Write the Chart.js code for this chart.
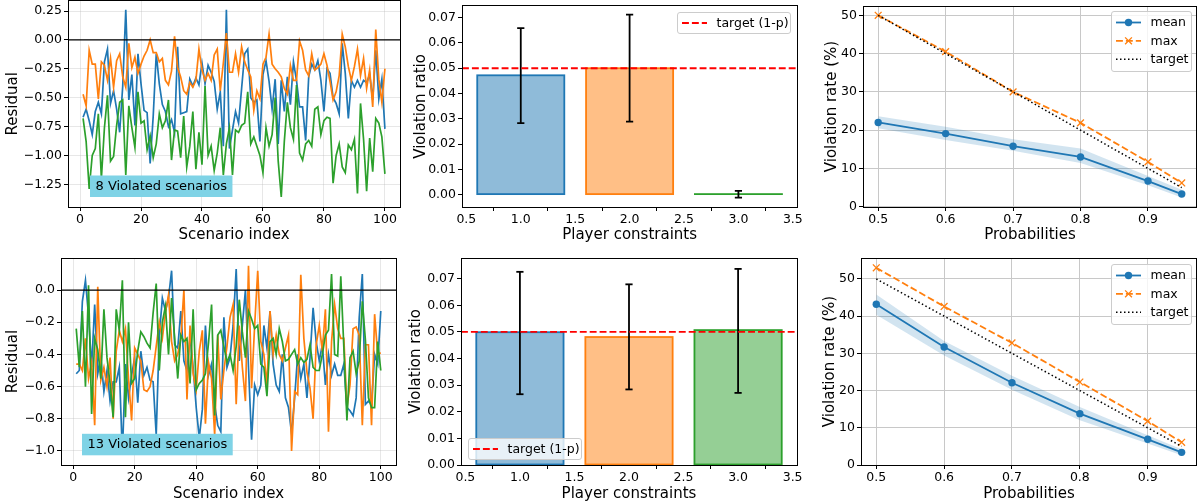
<!DOCTYPE html>
<html><head><meta charset="utf-8">
<script src="https://cdn.jsdelivr.net/npm/chart.js@4.4.0/dist/chart.umd.min.js"></script>
<style>
html,body{margin:0;padding:0;background:#fff;}
#wrap{position:relative;width:1203px;height:504px;overflow:hidden;background:#fff;}
canvas{position:absolute;}
</style></head><body><div id="wrap"></div>
<script>
// ---------------- DATA ----------------
const scenarios = Array.from({length:100},(_,i)=>i+1);
const topBlue = [-0.67,-0.60,-0.70,-0.82,-0.62,-0.54,-0.64,-0.19,-0.08,-0.55,
-0.44,-0.60,-0.80,-0.40,0.26,-0.52,-0.30,-0.74,-0.12,-0.38,
-0.61,-0.63,-1.07,-0.66,-0.12,-0.38,-0.56,-0.62,-0.75,-0.69,
-0.80,-0.06,-0.64,-0.63,-0.62,-0.34,-0.40,-0.33,-0.39,-0.20,
-0.38,-0.22,-0.28,-0.36,-0.60,-0.45,-0.92,0.26,-0.94,-0.78,
-0.62,-0.72,-0.42,-0.12,-0.08,-0.50,-0.54,-0.52,-0.88,-0.30,
-0.18,-0.36,-0.60,-0.34,-0.90,-0.35,-0.62,-0.32,-0.56,-0.19,
-0.35,-0.58,-0.58,-0.87,-0.32,-0.21,-0.26,-0.18,-0.35,-0.62,
-0.25,-0.29,-0.50,-0.55,-0.64,-0.03,-0.29,-0.68,-0.35,-0.41,
-0.35,-0.41,-0.35,-0.37,-0.30,-0.52,-0.09,-0.51,-0.34,-0.77];
const topOrange = [-0.47,-0.57,-0.09,-0.21,-0.21,-0.51,-0.19,-0.22,-0.35,-0.16,
-0.41,-0.18,-0.12,-0.32,-0.41,-0.03,-0.24,-0.15,-0.29,-0.21,
-0.14,-0.09,0.00,-0.11,-0.11,-0.19,-0.16,-0.35,-0.39,-0.27,
0.03,-0.24,-0.32,-0.44,-0.47,-0.37,-0.41,-0.35,-0.08,-0.26,
-0.35,-0.29,-0.35,-0.13,-0.08,-0.44,-0.20,0.06,-0.28,-0.28,
-0.12,-0.28,-0.06,-0.19,-0.26,-0.32,-0.61,-0.44,-0.51,-0.21,
-0.15,0.05,-0.21,-0.25,-0.28,-0.32,-0.42,-0.47,-0.22,-0.35,
-0.35,-0.01,-0.09,-0.26,-0.31,-0.12,-0.26,-0.24,-0.21,-0.12,
-0.22,-0.36,-0.52,-0.45,-0.31,0.05,-0.06,-0.23,-0.35,-0.23,
-0.08,-0.31,-0.16,-0.42,-0.26,-0.58,0.09,-0.34,-0.54,-0.25];
const topGreen = [-0.68,-0.88,-1.29,-1.00,-0.94,-0.64,-1.20,-0.76,-0.48,-1.05,
-1.01,-0.74,-0.54,-0.52,-1.17,-0.57,-0.76,-0.93,-0.45,-0.72,
-0.70,-0.95,-0.83,-1.02,-0.90,-0.64,-0.76,-0.70,-0.52,-1.04,
-0.78,-0.79,-1.02,-0.66,-1.10,-0.92,-0.62,-1.12,-0.80,-1.08,
-0.40,-1.00,-0.92,-1.13,-0.98,-0.76,-1.17,-0.90,-0.76,-1.17,
-0.78,-0.80,-0.74,-0.72,-0.45,-0.90,-0.84,-0.92,-1.00,-1.15,
-0.76,-0.92,-0.82,-0.50,-1.05,-1.36,-0.88,-0.54,-0.76,-0.86,
-0.39,-0.98,-1.04,-0.90,-0.87,-0.92,-0.60,-0.58,-0.82,-0.70,
-0.67,-0.68,-1.24,-1.00,-0.90,-1.10,-1.15,-0.91,-0.95,-0.86,
-1.33,-0.55,-0.86,-1.31,-0.85,-1.14,-0.68,-0.72,-0.84,-1.16];
const botBlue = [-0.52,-0.50,-0.07,0.06,-0.16,-0.48,-0.09,-0.52,-0.42,-0.63,
-0.50,-0.69,-0.57,-0.57,-0.48,-1.02,-0.46,-0.67,-0.53,-0.42,
-0.70,-0.38,-0.53,-0.48,-0.56,-0.57,-0.90,-0.28,-0.05,-0.13,
-0.05,0.12,-0.34,-0.36,-0.13,-0.44,-0.50,-0.29,-0.48,-0.73,
-0.92,-0.74,-0.22,-0.53,-0.46,-0.71,-0.84,-0.88,-0.17,-0.48,
-0.42,-0.22,0.13,-0.44,-0.22,0.00,-0.48,-0.93,-0.59,-0.65,
-0.59,-0.22,-0.36,-0.13,-0.46,-0.59,-0.63,-0.40,-0.67,-0.73,
-0.89,-0.67,-0.40,-0.55,-0.46,-0.67,-0.42,-0.11,-0.32,-0.44,
-0.34,-0.59,-0.40,-0.53,-0.46,-0.53,-0.53,-0.46,-0.73,-0.75,
-0.78,-0.67,-0.17,0.10,-0.71,-0.69,-0.71,-0.40,-0.46,-0.13];
const botOrange = [-0.46,-0.46,-0.50,-0.30,-0.55,-0.45,-0.84,0.02,-0.56,-0.48,
-0.60,-0.42,-0.80,-0.38,-0.25,-0.32,-0.24,-0.55,-0.81,-0.36,
-0.40,-0.44,-0.62,-0.63,-0.60,-0.50,-0.35,-0.20,-0.30,-0.14,
-0.03,-0.32,-0.44,-0.40,-0.30,0.00,-0.68,-0.22,-0.52,-0.62,
-0.38,-0.25,-0.83,-0.45,-0.55,-0.90,-0.28,-0.68,-0.50,-0.35,
-0.17,-0.09,-0.71,-0.22,-0.48,-0.69,0.15,-0.61,-0.22,0.12,
-0.32,-0.40,-0.59,-0.13,-0.40,-0.28,-0.40,-0.44,-0.36,-0.28,
-1.00,-0.63,-0.65,0.095,-0.30,-0.51,-0.61,-0.80,-0.34,-0.22,
-0.38,-0.12,-0.88,-0.32,-0.09,-0.24,-0.30,-0.30,-0.73,-0.59,
-0.24,-0.23,-0.28,-0.84,-0.34,-0.34,-0.84,-0.15,-0.40,-0.39];
const botGreen = [-0.24,-0.48,-0.13,-0.60,0.03,-0.77,-0.30,-0.37,-0.55,-0.12,
-0.42,-0.58,-0.79,-0.12,-0.25,0.06,-0.79,-0.20,-0.58,-0.55,
-0.38,-0.26,-0.29,-0.33,-0.36,-0.14,0.04,-0.50,-0.20,-0.10,
-0.40,-0.05,-0.30,-0.55,-0.28,-0.32,-0.30,-0.58,-0.12,-0.62,
-0.58,-0.56,-0.52,-0.33,-0.09,-0.78,-0.28,-0.25,-0.35,-0.45,
-0.40,-0.50,-0.35,-0.06,-0.26,-0.42,-0.13,-0.18,-0.24,-0.22,
-0.46,-0.48,-0.66,-0.32,-0.30,-0.40,-0.24,-0.32,-0.44,-0.43,
-0.40,-0.37,-0.46,-0.42,-0.45,-0.43,-0.34,-0.48,-0.50,-0.50,
-0.40,-0.28,-0.25,0.10,-0.40,-0.41,0.085,-0.36,-0.81,-0.42,
-0.38,-0.52,-0.44,-0.07,-0.31,-0.67,-0.73,-0.73,-0.32,-0.50];
const violatedTop = 8;
const violatedBottom = 13;

const players = [1, 2, 3];
const topRatio = [0.0472, 0.0500, 0.0002];
const topErrLo = [0.0283, 0.0289, -0.0012];
const topErrHi = [0.0659, 0.0712, 0.0015];
const botRatio = [0.0499, 0.0481, 0.0507];
const botErrLo = [0.0266, 0.0284, 0.0271];
const botErrHi = [0.0726, 0.0679, 0.0737];
const targetRatio = 0.05;

const probs = [0.5, 0.6, 0.7, 0.8, 0.9, 0.95];
const targetRate = [50, 40, 30, 20, 10, 5];
const topMean = [22.0, 19.1, 15.8, 13.0, 6.7, 3.3];
const topMax = [50.0, 40.5, 30.0, 21.9, 11.7, 6.2];
const topBandHi = [23.6, 20.9, 17.6, 15.2, 8.0, 4.4];
const topBandLo = [20.5, 17.4, 14.6, 11.4, 5.6, 2.4];
const botMean = [43.2, 31.7, 22.1, 13.8, 6.9, 3.4];
const botMax = [53.0, 42.6, 32.8, 22.3, 11.8, 6.1];
const botBandHi = [45.8, 33.3, 24.0, 15.6, 8.0, 4.2];
const botBandLo = [40.4, 29.4, 20.2, 12.0, 5.8, 2.6];

const residualXTicks = [0, 20, 40, 60, 80, 100];
const topResidualYTicks = [-1.25, -1.0, -0.75, -0.5, -0.25, 0.0, 0.25];
const botResidualYTicks = [-1.0, -0.8, -0.6, -0.4, -0.2, 0.0];
const barXTicks = [0.5, 1.0, 1.5, 2.0, 2.5, 3.0, 3.5];
const barYTicks = [0, 0.01, 0.02, 0.03, 0.04, 0.05, 0.06, 0.07];
const probXTicks = [0.5, 0.6, 0.7, 0.8, 0.9];
const rateYTicks = [0, 10, 20, 30, 40, 50];

// ---------------- STYLE / HELPERS ----------------
const C = {blue:'#1f77b4', orange:'#ff7f0e', green:'#2ca02c'};
const FILL = ['rgba(31,119,180,0.5)','rgba(255,127,14,0.5)','rgba(44,160,44,0.5)'];
Chart.defaults.font.family = "'DejaVu Sans', sans-serif";
Chart.defaults.font.size = 12.5;
Chart.defaults.color = '#000';
Chart.defaults.animation = false;

const fmt = dec => v => {
  let s = Math.abs(v) < 1e-12 ? (0).toFixed(dec) : Number(v).toFixed(dec);
  return s.replace('-', '\u2212');
};
const wrap = document.getElementById('wrap');
const decorMap = new Map();

const decor = {
  id: 'decor',
  afterDatasetDraw(chart, args) {
    const o = decorMap.get(chart.canvas); if (!o) return;
    if (args.meta.type !== 'bar') return;
    const ctx = chart.ctx, a = chart.chartArea;
    const ds = chart.data.datasets[args.index];
    ctx.save();
    ctx.beginPath(); ctx.rect(a.left, a.top, a.right - a.left, a.bottom - a.top); ctx.clip();
    args.meta.data.forEach((el, i) => {
      const p = el.getProps(['x','y','base','width'], true);
      ctx.strokeStyle = ds.edgeColors[i];
      ctx.lineWidth = 1.8;
      ctx.strokeRect(p.x - p.width/2, Math.min(p.y, p.base), p.width, Math.abs(p.base - p.y));
    });
    ctx.restore();
  },
  afterDatasetsDraw(chart) {
    const o = decorMap.get(chart.canvas); if (!o) return;
    const ctx = chart.ctx, a = chart.chartArea;
    ctx.save();
    ctx.beginPath(); ctx.rect(a.left, a.top, a.right - a.left, a.bottom - a.top); ctx.clip();
    (o.hlines || []).forEach(h => {
      const y = chart.scales.y.getPixelForValue(h.value);
      ctx.beginPath();
      ctx.setLineDash(h.dash || []);
      ctx.strokeStyle = h.color; ctx.lineWidth = h.width;
      ctx.moveTo(a.left, y); ctx.lineTo(a.right, y); ctx.stroke();
    });
    ctx.setLineDash([]);
    if (o.textbox) {
      const tb = o.textbox;
      ctx.font = "13px 'DejaVu Sans'";
      const tw = ctx.measureText(tb.text).width;
      const bh = 21.5, bx = a.left + tb.dx, by = a.bottom - tb.dy - bh;
      ctx.fillStyle = tb.color;
      ctx.fillRect(bx, by, tw + 11, bh);
      ctx.fillStyle = '#000'; ctx.textBaseline = 'middle'; ctx.textAlign = 'left';
      ctx.fillText(tb.text, bx + 5.5, by + bh/2 + 0.5);
    }
    ctx.restore();
    ctx.save();
    if (o.legend) {
      const lg = o.legend;
      let bx, by;
      if (lg.anchor === 'tr') { bx = a.right - lg.dx - lg.w; by = a.top + lg.dy; }
      else { bx = a.left + lg.dx; by = a.bottom - lg.dy - lg.h; }
      bx = Math.round(bx) + 0.5; by = Math.round(by) + 0.5;
      ctx.beginPath(); ctx.roundRect(bx, by, lg.w, lg.h, 2.5);
      ctx.fillStyle = 'rgba(255,255,255,0.8)'; ctx.fill();
      ctx.strokeStyle = '#cccccc'; ctx.lineWidth = 1; ctx.stroke();
      lg.items.forEach((it, k) => {
        const yy = by + lg.rows[k];
        ctx.beginPath(); ctx.setLineDash(it.dash || []);
        ctx.strokeStyle = it.color; ctx.lineWidth = it.width;
        ctx.moveTo(bx + 4.5, yy); ctx.lineTo(bx + 29.5, yy); ctx.stroke();
        ctx.setLineDash([]);
        const mx = bx + 17;
        if (it.marker === 'circle') {
          ctx.beginPath(); ctx.arc(mx, yy, 3.7, 0, Math.PI*2); ctx.fillStyle = it.color; ctx.fill();
        } else if (it.marker === 'x') {
          const r = 3.4; ctx.beginPath(); ctx.lineWidth = 1.3;
          ctx.moveTo(mx - r, yy - r); ctx.lineTo(mx + r, yy + r);
          ctx.moveTo(mx - r, yy + r); ctx.lineTo(mx + r, yy - r); ctx.stroke();
        }
        ctx.fillStyle = '#000'; ctx.font = "12.5px 'DejaVu Sans'";
        ctx.textBaseline = 'middle'; ctx.textAlign = 'left';
        ctx.fillText(it.label, bx + 39, yy + 0.5);
      });
    }
    // frame (spines)
    ctx.strokeStyle = '#000'; ctx.lineWidth = 1; ctx.setLineDash([]);
    const L = Math.floor(a.left) + 0.5, T = Math.floor(a.top) + 0.5;
    const R = Math.floor(a.right) + 0.5, B = Math.floor(a.bottom) + 0.5;
    ctx.strokeRect(L, T, R - L, B - T);
    ctx.restore();
  }
};
Chart.register(decor);

function makePanel(p, type, datasets, deco) {
  const cv = document.createElement('canvas');
  cv.width = p.cw; cv.height = p.ch;
  cv.style.left = p.cx + 'px'; cv.style.top = p.cy + 'px';
  cv.style.width = p.cw + 'px'; cv.style.height = p.ch + 'px';
  wrap.appendChild(cv);
  decorMap.set(cv, deco);
  const [L, T, R, B] = p.area;
  const pl = p.yTitleX - 9 - p.cx;
  const yW = L - p.cx - pl;
  const pt = T - p.cy;
  const pr = p.cx + p.cw - R;
  const xBottom = p.xTitleY + 9;
  const pb = p.cy + p.ch - xBottom;
  const xH = xBottom - B;
  const gridBase = {display: true, drawOnChartArea: p.gridOn, color: p.gridColor, lineWidth: 1,
                    drawTicks: true, tickLength: 4, tickColor: '#000', tickWidth: 1};
  new Chart(cv, {
    type,
    data: {datasets},
    options: {
      responsive: false, animation: false, events: [],
      devicePixelRatio: 1,
      layout: {padding: {left: pl, top: pt, right: pr, bottom: pb}},
      plugins: {legend: {display: false}, tooltip: {enabled: false}},
      scales: {
        x: {type: 'linear', min: p.xmin, max: p.xmax, offset: false,
            afterBuildTicks: s => { s.ticks = p.xticks.map(v => ({value: v})); },
            afterFit: s => { s.height = xH; s.paddingLeft = 0; s.paddingRight = 0; },
            ticks: {callback: p.xfmt, padding: 1.5, maxRotation: 0, autoSkip: false},
            grid: Object.assign({}, gridBase),
            border: {display: false},
            title: {display: true, text: p.xlabel, font: {size: 15}, padding: 0, color: '#000'}},
        y: {type: 'linear', min: p.ymin, max: p.ymax,
            afterBuildTicks: s => { s.ticks = p.yticks.map(v => ({value: v})); },
            afterFit: s => { s.width = yW; s.paddingTop = 0; s.paddingBottom = 0; },
            ticks: {callback: p.yfmt, padding: 2, autoSkip: false},
            grid: Object.assign({}, gridBase),
            border: {display: false},
            title: {display: true, text: p.ylabel, font: {size: 15}, padding: 0, color: '#000'}}
      }
    }
  });
}

// ---------------- RESIDUAL PANELS ----------------
function residualSets(b, o, g) {
  const mk = (arr, col, ord) => ({type: 'line', data: scenarios.map((x, i) => ({x, y: arr[i]})),
    borderColor: col, borderWidth: 1.7, pointRadius: 0, tension: 0, fill: false, order: ord});
  return [mk(b, C.blue, 3), mk(o, C.orange, 2), mk(g, C.green, 1)];
}
const resGrid = 'rgba(176,176,176,0.3)';
makePanel({cx: 0, cy: 0, cw: 403, ch: 252, area: [68, 0.5, 400, 207], yTitleX: 13.3, xTitleY: 235.5,
  xmin: -3.95, xmax: 104.95, ymin: -1.4465, ymax: 0.341, xticks: residualXTicks, yticks: topResidualYTicks,
  xfmt: fmt(0), yfmt: fmt(2), xlabel: 'Scenario index', ylabel: 'Residual', gridOn: true, gridColor: resGrid},
  'line', residualSets(topBlue, topOrange, topGreen),
  {hlines: [{value: 0, color: '#000', width: 1.3}],
   textbox: {text: violatedTop + ' Violated scenarios', dx: 22, dy: 10, color: 'rgb(127,211,230)'}});
makePanel({cx: 0, cy: 252, cw: 403, ch: 252, area: [61, 258, 396, 465], yTitleX: 13.3, xTitleY: 494,
  xmin: -3.95, xmax: 104.95, ymin: -1.087, ymax: 0.199, xticks: residualXTicks, yticks: botResidualYTicks,
  xfmt: fmt(0), yfmt: fmt(1), xlabel: 'Scenario index', ylabel: 'Residual', gridOn: true, gridColor: resGrid},
  'line', residualSets(botBlue, botOrange, botGreen),
  {hlines: [{value: 0, color: '#000', width: 1.3}],
   textbox: {text: violatedBottom + ' Violated scenarios', dx: 21, dy: 9.7, color: 'rgb(127,211,230)'}});

// ---------------- BAR PANELS ----------------
// Chart.js measures the bar slot from the smallest gap among bars AND ticks (ticks are 0.5 apart),
// so barPercentage 1.6 of that 0.5-unit slot gives matplotlib's 0.8-unit bar width.
function barSets(ratio, lo, hi) {
  const sets = [{type: 'bar', data: players.map((x, i) => ({x, y: ratio[i]})),
    backgroundColor: FILL, edgeColors: [C.blue, C.orange, C.green], borderWidth: 0,
    barPercentage: 1.6, categoryPercentage: 1.0, order: 5}];
  players.forEach((x, i) => sets.push({type: 'line', data: [{x, y: lo[i]}, {x, y: hi[i]}],
    borderColor: '#000', borderWidth: 1.8, pointStyle: 'line', pointRadius: 3.6,
    pointBorderColor: '#000', pointBorderWidth: 1.8, pointBackgroundColor: '#000',
    fill: false, tension: 0, order: 1}));
  return sets;
}
const targetLegend = [{label: 'target (1-p)', color: 'red', dash: [6.9, 3], width: 1.8}];
makePanel({cx: 403, cy: 0, cw: 400, ch: 252, area: [462, 0.5, 798, 207], yTitleX: 420.7, xTitleY: 235.5,
  xmin: 0.46, xmax: 3.54, ymin: -0.0049, ymax: 0.0747, xticks: barXTicks, yticks: barYTicks,
  xfmt: fmt(1), yfmt: fmt(2), xlabel: 'Player constraints', ylabel: 'Violation ratio', gridOn: false, gridColor: 'rgba(0,0,0,0)'},
  'bar', barSets(topRatio, topErrLo, topErrHi),
  {hlines: [{value: targetRatio, color: 'red', width: 1.8, dash: [6.9, 3]}],
   legend: {anchor: 'tr', dx: 7, dy: 6, w: 113, h: 21, rows: [10.5], items: targetLegend}});
makePanel({cx: 403, cy: 252, cw: 400, ch: 252, area: [461, 258, 797, 465], yTitleX: 415.7, xTitleY: 494,
  xmin: 0.46, xmax: 3.54, ymin: 0, ymax: 0.0778, xticks: barXTicks, yticks: barYTicks,
  xfmt: fmt(1), yfmt: fmt(2), xlabel: 'Player constraints', ylabel: 'Violation ratio', gridOn: false, gridColor: 'rgba(0,0,0,0)'},
  'bar', barSets(botRatio, botErrLo, botErrHi),
  {hlines: [{value: targetRatio, color: 'red', width: 1.8, dash: [6.9, 3]}],
   legend: {anchor: 'bl', dx: 6.5, dy: 6.5, w: 113, h: 21, rows: [10.5], items: targetLegend}});

// ---------------- RATE PANELS ----------------
function rateSets(mean, mx, hi, lo) {
  const pts = arr => probs.map((x, i) => ({x, y: arr[i]}));
  return [
    {data: pts(hi), fill: '+1', backgroundColor: 'rgba(31,119,180,0.2)', borderColor: 'rgba(0,0,0,0)', borderWidth: 0, pointRadius: 0, tension: 0, order: 5},
    {data: pts(lo), fill: false, borderColor: 'rgba(0,0,0,0)', borderWidth: 0, pointRadius: 0, tension: 0, order: 4},
    {data: pts(mean), borderColor: C.blue, borderWidth: 1.8, pointStyle: 'circle', pointRadius: 3.7,
     pointBackgroundColor: C.blue, pointBorderColor: C.blue, pointBorderWidth: 0, fill: false, tension: 0, order: 3},
    {data: pts(mx), borderColor: C.orange, borderWidth: 1.8, borderDash: [6.9, 3], pointStyle: 'crossRot', pointRadius: 4.8,
     pointBorderColor: C.orange, pointBorderWidth: 1.3, fill: false, tension: 0, order: 2},
    {data: pts(targetRate), borderColor: '#000', borderWidth: 1.5, borderDash: [1.5, 2.5], pointRadius: 0, fill: false, tension: 0, order: 1}
  ];
}
const rateLegend = [
  {label: 'mean', color: C.blue, width: 1.8, marker: 'circle'},
  {label: 'max', color: C.orange, width: 1.8, dash: [6.9, 3], marker: 'x'},
  {label: 'target', color: '#000', width: 1.5, dash: [1.5, 2.5]}];
makePanel({cx: 803, cy: 0, cw: 400, ch: 252, area: [863, 0.5, 1197, 207], yTitleX: 831.7, xTitleY: 235.5,
  xmin: 0.4775, xmax: 0.9725, ymin: -0.08, ymax: 52.4, xticks: probXTicks, yticks: rateYTicks,
  xfmt: fmt(1), yfmt: fmt(0), xlabel: 'Probabilities', ylabel: 'Violation rate (%)', gridOn: true, gridColor: '#c8c8c8'},
  'line', rateSets(topMean, topMax, topBandHi, topBandLo),
  {legend: {anchor: 'tr', dx: 6.3, dy: 4.5, w: 80, h: 60, rows: [11, 29.3, 47.7], items: rateLegend}});
makePanel({cx: 803, cy: 252, cw: 400, ch: 252, area: [861, 258, 1197, 465], yTitleX: 830, xTitleY: 494,
  xmin: 0.4775, xmax: 0.9725, ymin: 0, ymax: 55.6, xticks: probXTicks, yticks: rateYTicks,
  xfmt: fmt(1), yfmt: fmt(0), xlabel: 'Probabilities', ylabel: 'Violation rate (%)', gridOn: true, gridColor: '#c8c8c8'},
  'line', rateSets(botMean, botMax, botBandHi, botBandLo),
  {legend: {anchor: 'tr', dx: 6.3, dy: 5.5, w: 80, h: 60, rows: [11, 29.3, 47.7], items: rateLegend}});
</script>
</body></html>
